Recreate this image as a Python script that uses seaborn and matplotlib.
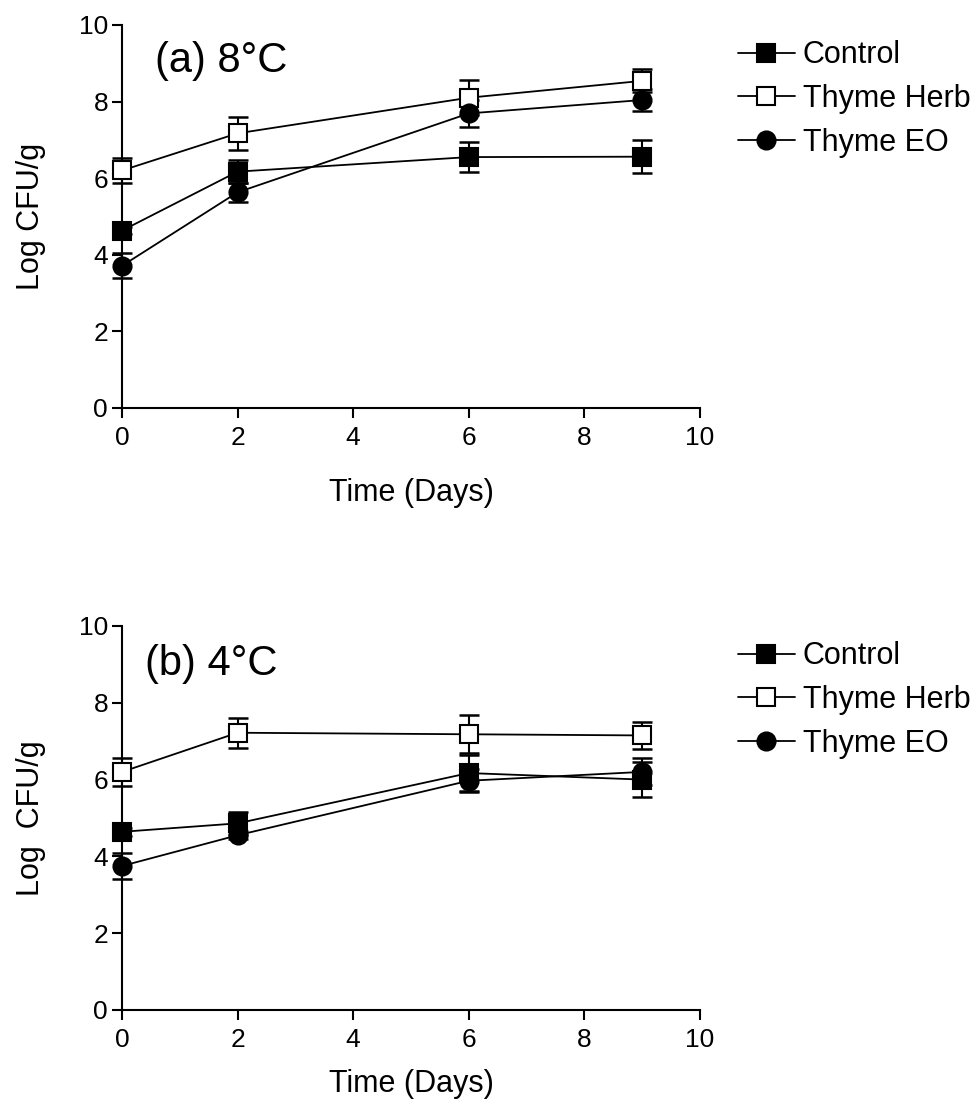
import matplotlib
matplotlib.use("Agg")
import matplotlib.pyplot as plt
import pandas as pd
import seaborn as sns

# Valeurs (Log CFU/g)
days = [0, 2, 6, 9]
series_names = ["Control", "Thyme Herb", "Thyme EO"]

control_8 = [4.63, 6.17, 6.55, 6.56]
control_8_err = [0.10, 0.30, 0.40, 0.43]
herb_8 = [6.20, 7.17, 8.10, 8.54]
herb_8_err = [0.33, 0.43, 0.45, 0.30]
eo_8 = [3.71, 5.63, 7.69, 8.04]
eo_8_err = [0.33, 0.25, 0.35, 0.28]

control_4 = [4.64, 4.86, 6.17, 6.00]
control_4_err = [0.10, 0.30, 0.47, 0.45]
herb_4 = [6.20, 7.22, 7.18, 7.15]
herb_4_err = [0.37, 0.39, 0.49, 0.35]
eo_4 = [3.75, 4.55, 5.97, 6.20]
eo_4_err = [0.33, 0.10, 0.30, 0.35]

panel_titles = ["(a) 8°C", "(b) 4°C"]
y_labels = ["Log CFU/g", "Log  CFU/g"]

sns.set_style("ticks")
plt.rcParams["font.family"] = ["Liberation Sans", "DejaVu Sans"]
for key in ["text.color", "axes.labelcolor", "xtick.color", "ytick.color",
            "axes.edgecolor"]:
    plt.rcParams[key] = "black"

marker_styles = {
    "Control": dict(marker="s", markerfacecolor="black"),
    "Thyme Herb": dict(marker="s", markerfacecolor="white"),
    "Thyme EO": dict(marker="o", markerfacecolor="black"),
}


def draw_panel(ax, values, errors, title, ylabel, xlabelpad, title_pos):
    for name, y, err in zip(series_names, values, errors):
        df = pd.DataFrame({"Day": days, "Log": y})
        eb = ax.errorbar(days, y, yerr=err, fmt="none", ecolor="black",
                         elinewidth=1.5, capsize=7, capthick=1.8, zorder=2)
        for art in eb.lines[1] + eb.lines[2]:
            art.set_clip_on(False)
        sns.lineplot(data=df, x="Day", y="Log", ax=ax, color="black",
                     linewidth=1.3, markersize=13, markeredgecolor="black",
                     markeredgewidth=1.5, label=name, zorder=3,
                     clip_on=False, **marker_styles[name])

    ax.set_xlim(0, 10)
    ax.set_ylim(0, 10)
    ax.set_xticks(range(0, 11, 2))
    ax.set_yticks(range(0, 11, 2))
    ax.tick_params(axis="both", labelsize=19, length=7, width=1.5,
                   direction="out")
    ax.tick_params(axis="x", pad=6)
    ax.tick_params(axis="y", pad=3)
    for side in ["left", "bottom"]:
        ax.spines[side].set_linewidth(1.5)
    sns.despine(ax=ax)

    ax.set_xlabel("Time (Days)", fontsize=22, labelpad=xlabelpad)
    ax.set_ylabel(ylabel, fontsize=22, labelpad=24)
    ax.text(title_pos[0], title_pos[1], title, transform=ax.transAxes,
            fontsize=30, va="baseline", ha="left")

    handles, labels = ax.get_legend_handles_labels()
    ax.legend(handles, labels, loc="upper left", bbox_to_anchor=(1.066, 0.96),
              frameon=False, fontsize=22, borderaxespad=0, borderpad=0,
              handlelength=1.85, handletextpad=0.27, labelspacing=0.45)


fig = plt.figure(figsize=(9.75, 10.99), dpi=100)
ax_a = fig.add_axes([0.1251, 0.6288, 0.5928, 0.3485])
ax_b = fig.add_axes([0.1251, 0.0810, 0.5928, 0.3494])

draw_panel(ax_a, [control_8, herb_8, eo_8],
           [control_8_err, herb_8_err, eo_8_err],
           panel_titles[0], y_labels[0], 20, (0.057, 0.877))
draw_panel(ax_b, [control_4, herb_4, eo_4],
           [control_4_err, herb_4_err, eo_4_err],
           panel_titles[1], y_labels[1], 12, (0.04, 0.872))

fig.savefig("out.png", dpi=100)
